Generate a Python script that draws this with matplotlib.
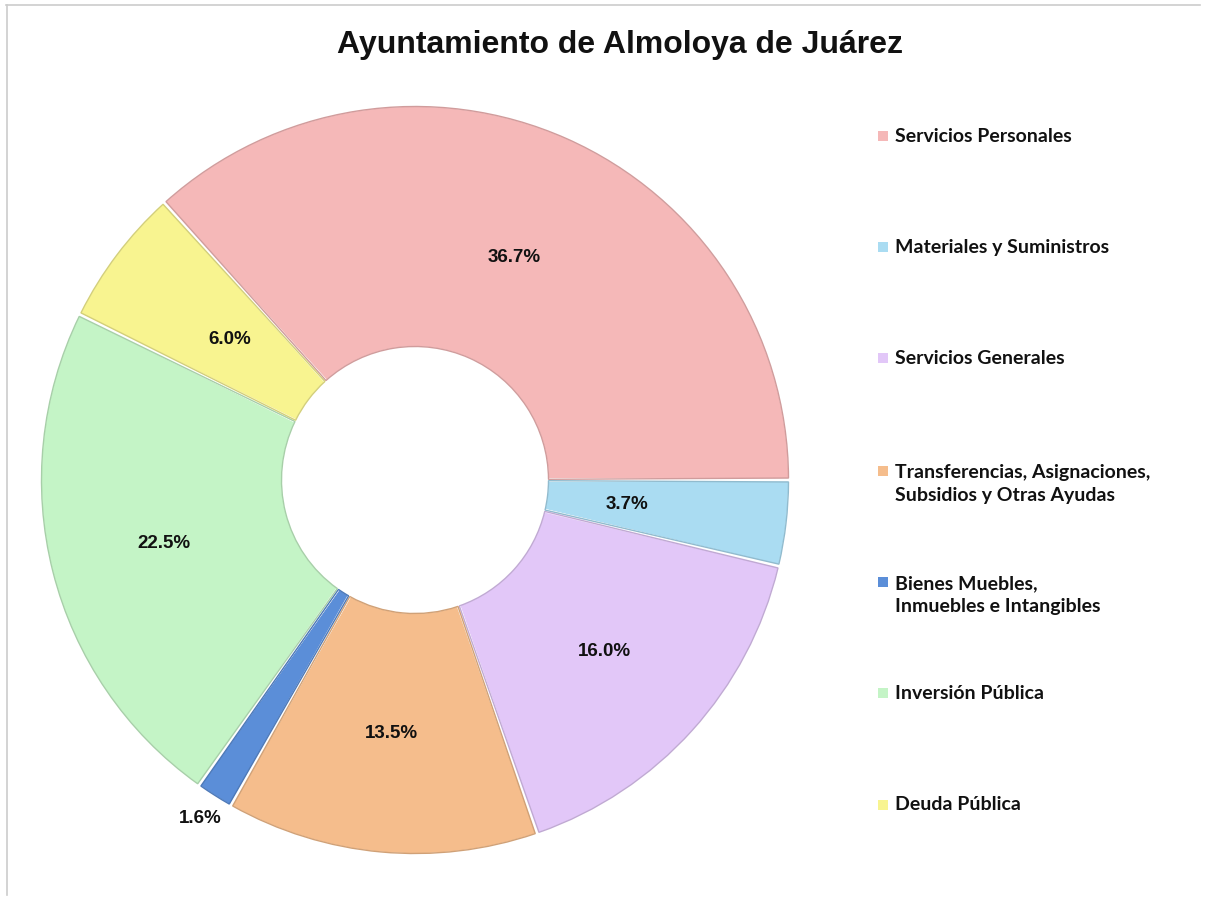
import matplotlib
matplotlib.use("Agg")
import matplotlib.pyplot as plt
import numpy as np
from matplotlib.colors import to_rgb

title = "Ayuntamiento de Almoloya de Juárez"
categories = ["Servicios Personales", "Materiales y Suministros", "Servicios Generales",
              "Transferencias, Asignaciones,\nSubsidios y Otras Ayudas",
              "Bienes Muebles,\nInmuebles e Intangibles", "Inversión Pública", "Deuda Pública"]
values = [36.7, 3.7, 16.0, 13.5, 1.6, 22.5, 6.0]
labels = ["36.7%", "3.7%", "16.0%", "13.5%", "1.6%", "22.5%", "6.0%"]
colors = ["#F5B8B8", "#AADCF2", "#E2C7F8", "#F5BD8C", "#5B8ED8", "#C4F4C6", "#F8F490"]
label_r = [0.65, 0.57, 0.68, 0.68, 1.07, 0.69, 0.62]

W, H = 1205, 905
fig = plt.figure(figsize=(W / 100, H / 100), dpi=100)
fig.patch.set_facecolor("white")
ax = fig.add_axes([0, 0, 1, 1])

cx, cy, R, r_in = 415, H - 480, 375, 132

def darker(c, f=0.8):
    rgb = np.array(to_rgb(c))
    return tuple(rgb * f)

start = 360 * values[0] / sum(values)
wedges, _ = ax.pie(values, colors=colors, startangle=start, counterclock=False,
                   center=(cx, cy), radius=R, frame=True,
                   wedgeprops=dict(width=R - r_in, linewidth=2.6, edgecolor="white"))
ax.set_xlim(0, W)
ax.set_ylim(0, H)
ax.set_aspect("equal")
ax.axis("off")

for w, c in zip(wedges, colors):
    ax.add_patch(matplotlib.patches.Wedge((cx, cy), R - 1.5, w.theta1 + 0.3, w.theta2 - 0.3,
                                          width=R - r_in - 3, facecolor="none",
                                          edgecolor=darker(c, 0.85), linewidth=1.0))

for w, lab, lr in zip(wedges, labels, label_r):
    ang = np.deg2rad((w.theta1 + w.theta2) / 2)
    ax.text(cx + lr * R * np.cos(ang), cy + lr * R * np.sin(ang), lab,
            ha="center", va="center", fontsize=13.5, fontweight="bold",
            family=["Liberation Sans", "DejaVu Sans"], color="#111111")

fig.text(620 / W, 1 - 45 / H, title, ha="center", va="center", fontsize=23,
         fontweight="bold", family=["Liberation Sans", "DejaVu Sans"], color="#111111")

leg_y = [136, 247, 358, 484, 595, 693, 805]
for lab, c, y in zip(categories, colors, leg_y):
    lines = lab.split("\n")
    top = y - (len(lines) - 1) * 12.5
    ax.add_patch(matplotlib.patches.Rectangle((878, H - top - 5), 10, 10, facecolor=c,
                                              edgecolor="none"))
    fig.text(895 / W, 1 - y / H, lab, ha="left", va="center", fontsize=14,
             fontweight="bold", family=["Lato", "DejaVu Sans"], color="#111111",
             linespacing=1.45)

# faint frame lines (top and left)
ax.plot([6, 1200], [H - 5, H - 5], color="#cccccc", lw=1.2)
ax.plot([6.5, 6.5], [H - 5, 10], color="#cccccc", lw=1.2)

fig.savefig("out.png", dpi=100, facecolor="white")
